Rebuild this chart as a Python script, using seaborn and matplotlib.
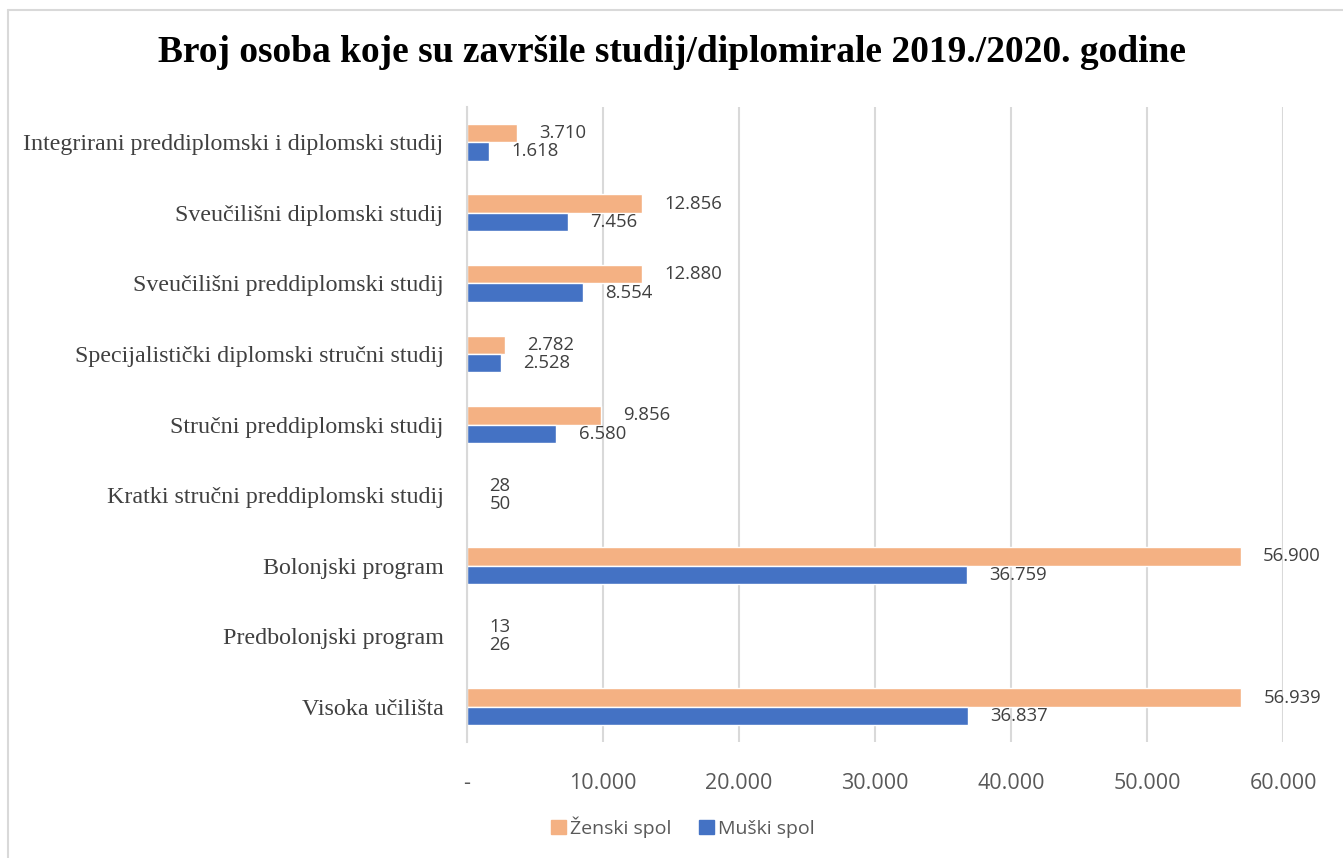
import pandas as pd
import matplotlib.pyplot as plt
import seaborn as sns
from matplotlib.lines import Line2D
from matplotlib.ticker import FuncFormatter

# Podaci
kategorije = [
    "Integrirani preddiplomski i diplomski studij",
    "Sveučilišni diplomski studij",
    "Sveučilišni preddiplomski studij",
    "Specijalistički diplomski stručni studij",
    "Stručni preddiplomski studij",
    "Kratki stručni preddiplomski studij",
    "Bolonjski program",
    "Predbolonjski program",
    "Visoka učilišta",
]
zenski = [3710, 12856, 12880, 2782, 9856, 28, 56900, 13, 56939]
muski = [1618, 7456, 8554, 2528, 6580, 50, 36759, 26, 36837]
spolovi = ["Ženski spol", "Muški spol"]
boje = ["#F4B183", "#4472C4"]
x_ticks = [0, 10000, 20000, 30000, 40000, 50000, 60000]

df = pd.DataFrame({
    "kategorija": kategorije * 2,
    "spol": [spolovi[0]] * len(kategorije) + [spolovi[1]] * len(kategorije),
    "broj": zenski + muski,
})

sns.set_theme(style="white")
sans = ["Open Sans", "DejaVu Sans"]
serif = ["Liberation Serif", "DejaVu Serif"]
plt.rcParams["font.family"] = sans

fig = plt.figure(figsize=(13.43, 8.58), dpi=100)
ax = fig.add_axes([467 / 1343, 1 - 742 / 858, (1283 - 467) / 1343, (742 - 107) / 858])

sns.barplot(
    data=df, y="kategorija", x="broj", hue="spol", order=kategorije,
    hue_order=spolovi, palette=boje, orient="h", width=0.52,
    saturation=1, ax=ax, legend=True,
)

# Oznake vrijednosti
fmt = lambda v: f"{v:,.0f}".replace(",", ".")
for cont in ax.containers:
    ax.bar_label(cont, labels=[fmt(b.get_width()) for b in cont],
                 padding=16, fontsize=13.3, color="#404040", family=sans)

ax.set_xlim(0, 60000)
ax.set_xticks(x_ticks)
ax.xaxis.set_major_formatter(FuncFormatter(lambda v, p: "-" if v == 0 else fmt(v)))
ax.grid(axis="x", color="#D9D9D9", linewidth=1.5)
ax.set_axisbelow(True)
for s in ["top", "right", "bottom"]:
    ax.spines[s].set_visible(False)
ax.spines["left"].set_color("#D9D9D9")
ax.spines["left"].set_linewidth(1.5)
ax.tick_params(axis="x", length=0, pad=22, labelsize=15.5, labelcolor="#595959")
ax.tick_params(axis="y", length=0, pad=17, labelsize=17.3, labelcolor="#404040")
for lbl in ax.get_yticklabels():
    lbl.set_family(serif)
for lbl in ax.get_xticklabels():
    lbl.set_family(sans)
ax.set_xlabel("")
ax.set_ylabel("")

# Legenda
handles = [plt.Rectangle((0, 0), 1, 1, color=c) for c in boje]
ax.legend(handles, spolovi, loc="center", bbox_to_anchor=(683 / 1343, 1 - 827 / 858),
          bbox_transform=fig.transFigure, ncol=2, frameon=False,
          handlelength=0.75, handleheight=0.75, handletextpad=0.25, columnspacing=1.4,
          labelcolor="#595959", prop={"family": sans, "size": 14})

# Naslov
fig.text(0.5, 1 - 53 / 858, "Broj osoba koje su završile studij/diplomirale 2019./2020. godine",
         ha="center", va="center", fontsize=27, fontweight="bold",
         family=serif, color="black")

# Okvir grafikona
fig.add_artist(Line2D([8 / 1343, 1], [1 - 10 / 858, 1 - 10 / 858], color="#D9D9D9", lw=1.5))
fig.add_artist(Line2D([8 / 1343, 8 / 1343], [0, 1 - 10 / 858], color="#D9D9D9", lw=1.5))

fig.savefig("out.png", dpi=100)
plt.close(fig)
